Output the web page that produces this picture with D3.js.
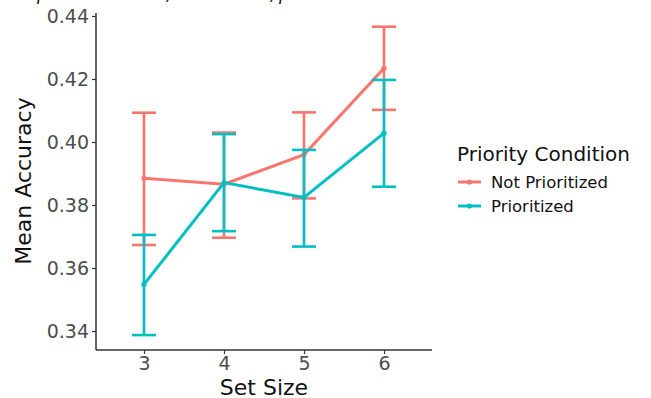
<!DOCTYPE html>
<html>
<head>
    <meta charset="utf-8" />
    <script src="https://d3js.org/d3.v7.min.js"></script>
    <style>
        body { margin: 0; background: #fff; }
        text { font-family: "DejaVu Sans", sans-serif; }
    </style>
</head>
<body>
    <script type="text/javascript">
        // data
        var setSizes = [3, 4, 5, 6];
        var groups = ["Not Prioritized", "Prioritized"];
        var colors = ["#F8766D", "#00BFC4"];
        var notPrioMean = [0.3885, 0.3866, 0.3960, 0.4234];
        var notPrioLow  = [0.3673, 0.3696, 0.3821, 0.4102];
        var notPrioHigh = [0.4093, 0.4030, 0.4094, 0.4366];
        var prioMean = [0.3548, 0.3871, 0.3824, 0.4028];
        var prioLow  = [0.3387, 0.3717, 0.3668, 0.3858];
        var prioHigh = [0.3705, 0.4025, 0.3975, 0.4197];
        var yTicks = [0.34, 0.36, 0.38, 0.40, 0.42, 0.44];

        var w = 651, h = 398;

        var svg = d3.select("body")
                    .append("svg")
                    .attr("width", w)
                    .attr("height", h);

        var x = d3.scaleLinear().domain([2.4, 6.6]).range([96, 432]);
        var y = d3.scaleLinear().domain([0.34, 0.44]).range([331, 16]);

        // cut-off caption line at the very top (only descenders show)
        var cap = svg.append("g")
                     .style("font-family", "Liberation Serif")
                     .style("font-style", "italic")
                     .style("font-size", "18px")
                     .attr("fill", "#111");
        cap.append("text").attr("x", 37).attr("y", 0).text("p");
        cap.append("text").attr("x", 166).attr("y", 0).text(",");
        cap.append("text").attr("x", 270).attr("y", 0).text(",");
        cap.append("text").attr("x", 279).attr("y", 0).text("p");

        // axes
        var yAxis = d3.axisLeft(y).tickValues(yTicks).tickFormat(d3.format(".2f")).tickSize(4).tickPadding(3);
        var xAxis = d3.axisBottom(x).tickValues(setSizes).tickFormat(d3.format("d")).tickSize(4).tickPadding(3);

        var gy = svg.append("g").attr("transform", "translate(96,0)").call(yAxis);
        gy.select(".domain").remove();
        gy.append("line").attr("x1", 0).attr("x2", 0).attr("y1", 13).attr("y2", 350)
          .attr("stroke", "#333").attr("stroke-width", 1.5);

        var gx = svg.append("g").attr("transform", "translate(0,350)").call(xAxis);
        gx.select(".domain").remove();
        gx.append("line").attr("x1", 96).attr("x2", 432).attr("y1", 0).attr("y2", 0)
          .attr("stroke", "#333").attr("stroke-width", 1.5);

        svg.selectAll(".tick line").attr("stroke", "#333").attr("stroke-width", 1.2);
        svg.selectAll(".tick text").attr("fill", "#4D4D4D").style("font-size", "19px")
           .style("font-family", "DejaVu Sans");

        svg.append("text")
           .attr("transform", "translate(31,181) rotate(-90)")
           .attr("text-anchor", "middle")
           .style("font-size", "22px")
           .attr("fill", "#111")
           .text("Mean Accuracy");

        svg.append("text")
           .attr("x", 264).attr("y", 395)
           .attr("text-anchor", "middle")
           .style("font-size", "22px")
           .attr("fill", "#111")
           .text("Set Size");

        var series = [
            {name: groups[0], color: colors[0], mean: notPrioMean, lo: notPrioLow, hi: notPrioHigh},
            {name: groups[1], color: colors[1], mean: prioMean, lo: prioLow, hi: prioHigh}
        ];

        var line = d3.line()
                     .x(function(d, i){ return x(setSizes[i]); })
                     .y(function(d){ return y(d); });

        var capHalf = (x(3.15) - x(3));

        series.forEach(function(s){
            var g = svg.append("g");
            // error bars
            setSizes.forEach(function(k, i){
                var cx = x(k);
                g.append("line").attr("x1", cx).attr("x2", cx)
                 .attr("y1", y(s.lo[i])).attr("y2", y(s.hi[i]))
                 .attr("stroke", s.color).attr("stroke-width", 2.6);
                [s.lo[i], s.hi[i]].forEach(function(v){
                    g.append("line").attr("x1", cx - capHalf).attr("x2", cx + capHalf)
                     .attr("y1", y(v)).attr("y2", y(v))
                     .attr("stroke", s.color).attr("stroke-width", 2.6);
                });
            });
            g.append("path").datum(s.mean)
             .attr("d", line)
             .attr("fill", "none")
             .attr("stroke", s.color)
             .attr("stroke-width", 3);
            g.selectAll("circle").data(s.mean).enter().append("circle")
             .attr("cx", function(d, i){ return x(setSizes[i]); })
             .attr("cy", function(d){ return y(d); })
             .attr("r", 2.6)
             .attr("fill", s.color);
        });

        // legend
        var leg = svg.append("g");
        leg.append("text").attr("x", 457).attr("y", 161)
           .style("font-size", "20px").attr("fill", "#111")
           .text("Priority Condition");
        series.forEach(function(s, i){
            var ly = 182 + i * 24;
            leg.append("line").attr("x1", 458).attr("x2", 481)
               .attr("y1", ly).attr("y2", ly)
               .attr("stroke", s.color).attr("stroke-width", 3);
            leg.append("circle").attr("cx", 469.5).attr("cy", ly).attr("r", 2.6).attr("fill", s.color);
            leg.append("text").attr("x", 491).attr("y", ly + 6)
               .style("font-size", "16.5px").attr("fill", "#111")
               .text(s.name);
        });
    </script>
</body>
</html>
